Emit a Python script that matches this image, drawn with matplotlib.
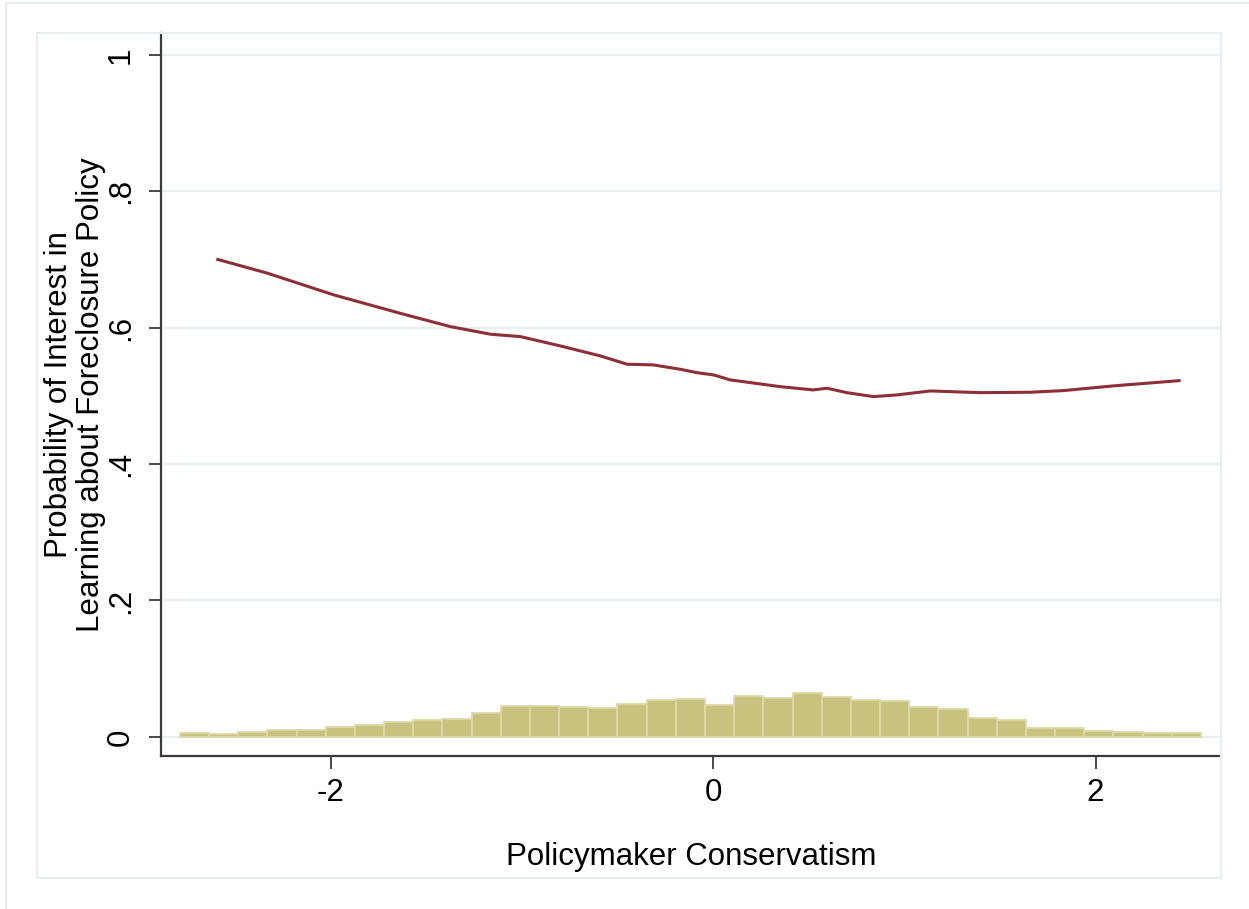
import numpy as np
import matplotlib.pyplot as plt
from matplotlib.patches import Rectangle

plt.rcParams['font.family'] = ['Liberation Sans', 'DejaVu Sans']
plt.rcParams['axes.unicode_minus'] = False

# curva di probabilita'
curve_x = [-2.592, -2.334, -1.985, -1.637, -1.375, -1.166, -1.009, -0.800, -0.591,
           -0.451, -0.314, -0.173, -0.085, 0.002, 0.089, 0.350, 0.523, 0.595,
           0.699, 0.838, 0.961, 1.135, 1.396, 1.658, 1.830, 2.092, 2.437]
curve_y = [0.700, 0.680, 0.648, 0.621, 0.6015, 0.5904, 0.5869, 0.5732, 0.5586,
           0.5464, 0.5454, 0.539, 0.534, 0.5307, 0.5234, 0.5135, 0.5087, 0.5112,
           0.5047, 0.4989, 0.5014, 0.5072, 0.5047, 0.5053, 0.5077, 0.5146, 0.5223]

# istogramma della conservatorita'
hist_start = -2.79
hist_width = 0.1526
hist_heights = [0.005, 0.004, 0.007, 0.010, 0.0095, 0.015, 0.017, 0.0215, 0.0245,
                0.026, 0.035, 0.0455, 0.045, 0.0435, 0.043, 0.048, 0.054, 0.056,
                0.047, 0.060, 0.0577, 0.065, 0.058, 0.054, 0.052, 0.044, 0.0405,
                0.0283, 0.0245, 0.0127, 0.013, 0.0088, 0.0068, 0.0053, 0.005]

y_ticks = [0, 0.2, 0.4, 0.6, 0.8, 1.0]
y_ticklabels = ['0', '.2', '.4', '.6', '.8', '1']
x_ticks = [-2, 0, 2]
x_ticklabels = ['-2', '0', '2']

W, H = 1249, 909
fig = plt.figure(figsize=(W / 100, H / 100), dpi=100)
fig.patch.set_facecolor('white')

# cornici in stile Stata
frame_col = '#E6EEF1'
fig.patches.append(Rectangle((6 / W, -0.05), 1.2, 1 - 3 / H + 0.05, transform=fig.transFigure,
                             fill=False, edgecolor=frame_col, lw=1.5, zorder=0))
fig.patches.append(Rectangle((37 / W, 1 - 878 / H), (1221 - 37) / W, (878 - 33) / H,
                             transform=fig.transFigure, fill=False, edgecolor=frame_col,
                             lw=1.5, zorder=0))

ax = fig.add_axes([161 / W, 1 - 756 / H, (1221 - 161) / W, (756 - 33) / H])
ax.set_xlim(-2.889, 2.656)
ax.set_ylim(-0.028, 1.032)

for t in y_ticks:
    ax.axhline(t, color='#E6EEF1', lw=1.5, zorder=0)

lefts = [hist_start + i * hist_width for i in range(len(hist_heights))]
ax.bar(lefts, hist_heights, width=hist_width, align='edge', color='#C9C27E',
       edgecolor='#DDD9A8', linewidth=1.3, zorder=2)

ax.plot(curve_x, curve_y, color='#8E2E36', lw=2.2, zorder=3)

ax.set_yticks(y_ticks)
ax.set_yticklabels(y_ticklabels, rotation=90, va='center')
ax.set_xticks(x_ticks)
ax.set_xticklabels(x_ticklabels)
ax.tick_params(axis='both', labelsize=22.5, length=9, width=1.3, color='#3a3a3a')
ax.tick_params(axis='y', pad=9)
ax.tick_params(axis='x', pad=7)

for s in ['top', 'right']:
    ax.spines[s].set_visible(False)
for s in ['left', 'bottom']:
    ax.spines[s].set_color('#3a3a3a')
    ax.spines[s].set_linewidth(1.6)

fig.text(75 / W, 1 - 395 / H, 'Probability of Interest in\nLearning about Foreclosure Policy',
         rotation=90, ha='center', va='center', multialignment='center',
         fontsize=22.5, linespacing=1.05)
fig.text(691 / W, 1 - 857 / H, 'Policymaker Conservatism', ha='center', va='center',
         fontsize=22.5)

plt.savefig('out.png', dpi=100)
